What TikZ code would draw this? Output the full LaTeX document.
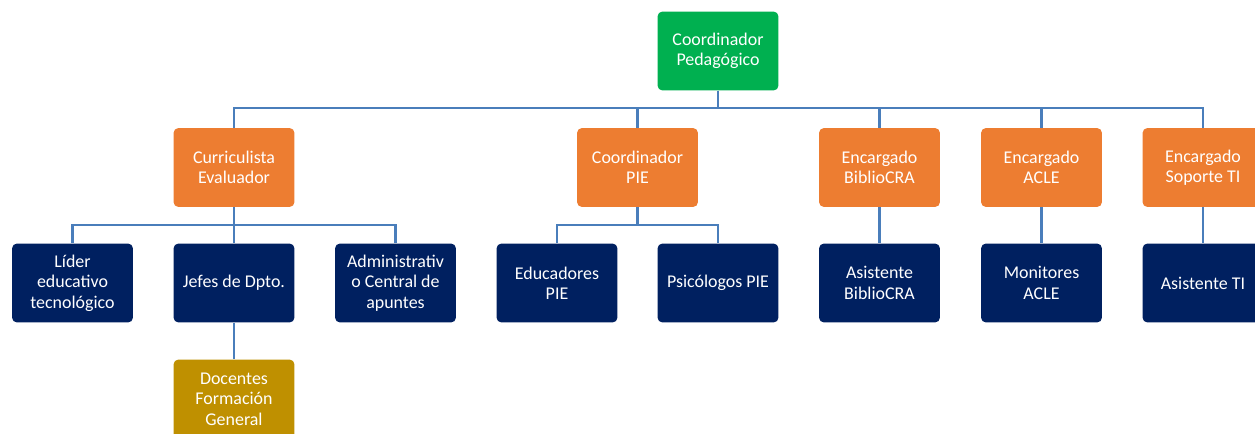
\documentclass[tikz,border=0pt]{standalone}
\usepackage{fontspec}
\setmainfont{Carlito}
\definecolor{TopClr}{RGB}{0,176,80}
\definecolor{MidClr}{RGB}{237,125,49}
\definecolor{LowClr}{RGB}{0,32,96}
\definecolor{DocClr}{RGB}{191,144,0}
\definecolor{LinkClr}{RGB}{74,126,187}
\begin{document}
\begin{tikzpicture}[x=0.02cm,y=-0.02cm,
  box/.style={rounded corners=0.1cm,text=white,align=center,
    minimum width=2.42cm,minimum height=1.58cm,inner sep=1pt,
    font=\fontsize{10.2}{11.6}\selectfont},
  topbox/.style={box,fill=TopClr},
  midbox/.style={box,fill=MidClr},
  lowbox/.style={box,fill=LowClr},
  docbox/.style={box,fill=DocClr},
  link/.style={draw=LinkClr,line width=1.4pt}]
\useasboundingbox (0,0) rectangle (1255,433);

% levels
\node[topbox] (cp) at (718,51) {Coordinador\\Pedagógico};

\node[midbox] (ce) at (234,167.5) {Curriculista\\Evaluador};
\node[midbox] (pie) at (637.5,167.5) {Coordinador\\PIE};
\node[midbox] (cra) at (879.5,167.5) {Encargado\\BiblioCRA};
\node[midbox] (acle) at (1041.5,167.5) {Encargado\\ACLE};
\node[midbox] (ti) at (1203,167.5) {Encargado\\Soporte TI};

\node[lowbox] (lider) at (72.5,283) {Líder\\educativo\\tecnológico};
\node[lowbox] (jefes) at (234,283) {Jefes de Dpto.};
\node[lowbox] (adm) at (395.5,283) {Administrativ\\o Central de\\apuntes};
\node[lowbox] (edu) at (557,283) {Educadores\\PIE};
\node[lowbox] (psi) at (718,283) {Psicólogos PIE};
\node[lowbox] (asis) at (879.5,283) {Asistente\\BiblioCRA};
\node[lowbox] (mon) at (1041.5,283) {Monitores\\ACLE};
\node[lowbox] (asti) at (1203,283) {Asistente TI};

\node[docbox] (doc) at (234,399) {Docentes\\Formación\\General};

% bus lines
\coordinate (busA) at (0,108);
\coordinate (busB) at (0,225);

\foreach \n in {ce,pie,cra,acle,ti}
  \draw[link] (cp.south) -- (cp.south |- busA) -| (\n.north);
\foreach \n in {lider,jefes,adm}
  \draw[link] (ce.south) -- (ce.south |- busB) -| (\n.north);
\foreach \n in {edu,psi}
  \draw[link] (pie.south) -- (pie.south |- busB) -| (\n.north);
\draw[link] (cra) -- (asis);
\draw[link] (acle) -- (mon);
\draw[link] (ti) -- (asti);
\draw[link] (jefes) -- (doc);

\end{tikzpicture}
\end{document}
